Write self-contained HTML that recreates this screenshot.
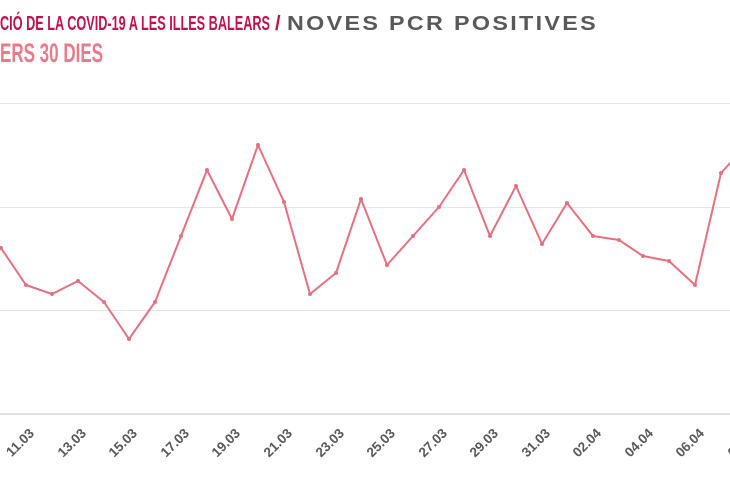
<!DOCTYPE html>
<html><head><meta charset="utf-8"><style>
html,body{margin:0;padding:0;background:#fff;}
svg{display:block;}
text{font-family:"Liberation Sans",sans-serif;font-weight:bold;}
</style></head><body>
<svg width="730" height="500" viewBox="0 0 730 500">
<text x="0" y="30" font-size="20" fill="#c0134e" textLength="270" lengthAdjust="spacingAndGlyphs">CIÓ DE LA COVID-19 A LES ILLES BALEARS</text>
<text x="275" y="30" font-size="20" fill="#c0134e">/</text>
<text x="287" y="30" font-size="20" fill="#58595b" textLength="311" lengthAdjust="spacingAndGlyphs" letter-spacing="2">NOVES PCR POSITIVES</text>
<text x="0" y="62" font-size="27" fill="#ea7a8a" textLength="103" lengthAdjust="spacingAndGlyphs">ERS 30 DIES</text>
<g stroke="#e6e6e6" stroke-width="1">
<line x1="0" y1="103.5" x2="730" y2="103.5"/>
<line x1="0" y1="207.5" x2="730" y2="207.5"/>
<line x1="0" y1="310.5" x2="730" y2="310.5"/>
</g>
<line x1="0" y1="414" x2="730" y2="414" stroke="#cfcfcf" stroke-width="1.2"/>
<polyline fill="none" stroke="#e5707f" stroke-width="2" stroke-linejoin="round" points="1,248 26,285 52,294 78,281 104,302 129,339 155,302 181,236 207,170 232,219 258,145 284,202 310,294 336,273 361,199 387,265 413,236 439,207 464,170 490,236 516,186 542,244 567,203 593,236 619,240 643,256 669,261 695,285 721,173 732,161"/>
<g fill="#e5707f">
<circle cx="1" cy="248" r="2"/><circle cx="26" cy="285" r="2"/><circle cx="52" cy="294" r="2"/><circle cx="78" cy="281" r="2"/><circle cx="104" cy="302" r="2"/><circle cx="129" cy="339" r="2"/><circle cx="155" cy="302" r="2"/><circle cx="181" cy="236" r="2"/><circle cx="207" cy="170" r="2"/><circle cx="232" cy="219" r="2"/><circle cx="258" cy="145" r="2"/><circle cx="284" cy="202" r="2"/><circle cx="310" cy="294" r="2"/><circle cx="336" cy="273" r="2"/><circle cx="361" cy="199" r="2"/><circle cx="387" cy="265" r="2"/><circle cx="413" cy="236" r="2"/><circle cx="439" cy="207" r="2"/><circle cx="464" cy="170" r="2"/><circle cx="490" cy="236" r="2"/><circle cx="516" cy="186" r="2"/><circle cx="542" cy="244" r="2"/><circle cx="567" cy="203" r="2"/><circle cx="593" cy="236" r="2"/><circle cx="619" cy="240" r="2"/><circle cx="643" cy="256" r="2"/><circle cx="669" cy="261" r="2"/><circle cx="695" cy="285" r="2"/><circle cx="721" cy="173" r="2"/>
</g>
<g font-size="13.5" fill="#58595b" text-anchor="end">
<text transform="translate(35,434) rotate(-45)">11.03</text>
<text transform="translate(87,434) rotate(-45)">13.03</text>
<text transform="translate(138,434) rotate(-45)">15.03</text>
<text transform="translate(190,434) rotate(-45)">17.03</text>
<text transform="translate(241,434) rotate(-45)">19.03</text>
<text transform="translate(293,434) rotate(-45)">21.03</text>
<text transform="translate(345,434) rotate(-45)">23.03</text>
<text transform="translate(396,434) rotate(-45)">25.03</text>
<text transform="translate(448,434) rotate(-45)">27.03</text>
<text transform="translate(499,434) rotate(-45)">29.03</text>
<text transform="translate(551,434) rotate(-45)">31.03</text>
<text transform="translate(602,434) rotate(-45)">02.04</text>
<text transform="translate(654,434) rotate(-45)">04.04</text>
<text transform="translate(705,434) rotate(-45)">06.04</text>
<text transform="translate(757,434) rotate(-45)">08.04</text>
</g>
</svg>
</body></html>
